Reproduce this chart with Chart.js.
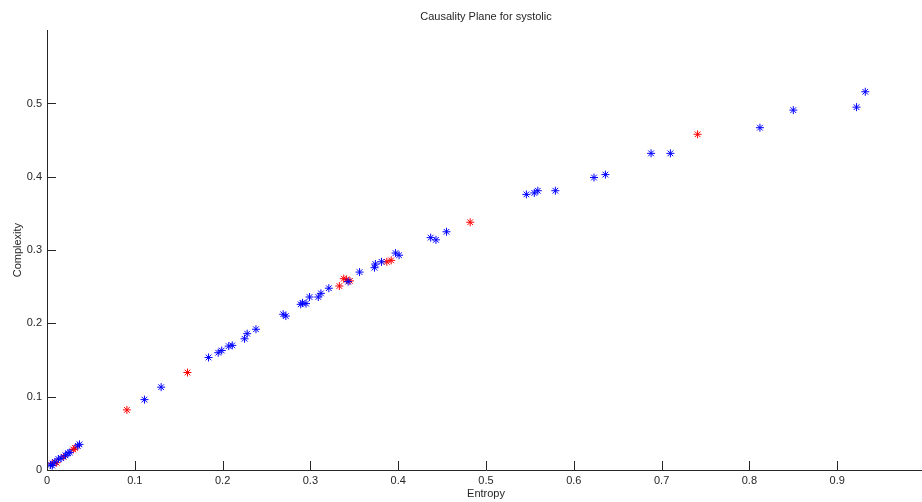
<!DOCTYPE html>
<html>
<head>
<meta charset="utf-8">
<title>Causality Plane for systolic</title>
<script src="https://cdn.jsdelivr.net/npm/chart.js@4/dist/chart.umd.min.js"></script>
<style>
html,body{margin:0;padding:0;background:#fff;overflow:hidden;}
canvas{display:block;}
</style>
</head>
<body>
<canvas id="plano" width="930" height="502"></canvas>
<script>
// blue series
const entropyA = [0.004,0.006,0.009,0.013,0.016,0.021,0.024,0.026,0.035,0.037,
0.111,0.130,0.184,0.195,0.199,0.207,0.211,0.225,0.228,0.238,
0.269,0.272,0.289,0.291,0.295,0.299,0.309,0.312,0.321,0.343,
0.356,0.373,0.374,0.381,0.397,0.401,0.437,0.443,0.455,0.546,
0.555,0.559,0.579,0.623,0.636,0.688,0.710,0.812,0.850,0.922,0.932];
const complexityA = [0.007,0.006,0.011,0.015,0.016,0.020,0.023,0.024,0.033,0.035,
0.096,0.113,0.1535,0.160,0.163,0.169,0.170,0.179,0.186,0.192,
0.2125,0.210,0.226,0.228,0.227,0.236,0.236,0.241,0.248,0.257,
0.270,0.276,0.281,0.284,0.296,0.293,0.317,0.314,0.325,0.376,
0.378,0.381,0.381,0.399,0.403,0.432,0.432,0.467,0.491,0.495,0.516];

// red series
const entropyB = [0.006,0.011,0.019,0.030,0.032,0.091,0.160,0.333,0.338,0.341,0.345,0.387,0.392,0.482,0.741];
const complexityB = [0.009,0.010,0.018,0.028,0.030,0.082,0.133,0.251,0.261,0.260,0.258,0.284,0.286,0.338,0.458];

const xTicks = [0,0.1,0.2,0.3,0.4,0.5,0.6,0.7,0.8,0.9];
const xTickLabels = ['0','0.1','0.2','0.3','0.4','0.5','0.6','0.7','0.8','0.9'];
const yTicks = [0,0.1,0.2,0.3,0.4,0.5];
const yTickLabels = ['0','0.1','0.2','0.3','0.4','0.5'];

function pontos(xs, ys){
  return xs.map((x,i)=>({x:x, y:ys[i]}));
}

const fonte = "Arial, 'Liberation Sans', sans-serif";
const corTexto = "#262626";

// inward tick marks, matlab style
const marcas = {
  id:'marcas',
  afterDraw(chart){
    const c = chart.ctx;
    const xs = chart.scales.x, ys = chart.scales.y;
    const area = chart.chartArea;
    c.save();
    c.strokeStyle = corTexto;
    c.lineWidth = 1;
    c.beginPath();
    xTicks.forEach(v=>{
      const px = Math.round(xs.getPixelForValue(v))+0.5;
      c.moveTo(px, area.bottom);
      c.lineTo(px, area.bottom-9);
    });
    yTicks.forEach(v=>{
      const py = Math.round(ys.getPixelForValue(v))+0.5;
      c.moveTo(area.left, py);
      c.lineTo(area.left+9, py);
    });
    c.stroke();
    c.restore();
  }
};

new Chart(document.getElementById("plano"),{
  type:"scatter",
  data:{
    datasets:[{
      data:pontos(entropyA, complexityA),
      borderColor:"#0000ff",
      backgroundColor:"#0000ff",
      pointStyle:"star",
      pointRadius:4,
      borderWidth:1
    },{
      data:pontos(entropyB, complexityB),
      borderColor:"#ff0000",
      backgroundColor:"#ff0000",
      pointStyle:"star",
      pointRadius:4,
      borderWidth:1
    }]
  },
  options:{
    responsive:false,
    animation:false,
    devicePixelRatio:1,
    layout:{padding:{left:0,right:5,top:0,bottom:0}},
    plugins:{
      legend:{display:false},
      tooltip:{enabled:false},
      title:{
        display:true,
        text:"Causality Plane for systolic",
        color:corTexto,
        fullSize:false,
        font:{family:fonte,size:11,weight:"normal"},
        padding:{top:10,bottom:7}
      }
    },
    scales:{
      x:{
        type:"linear",
        min:0,
        max:1,
        afterBuildTicks(s){ s.ticks = xTicks.map(v=>({value:v})); },
        afterFit(s){ s.height = 32; },
        grid:{display:true,drawOnChartArea:false,drawTicks:false},
        border:{color:corTexto,width:1},
        ticks:{
          padding:4,
          color:corTexto,
          font:{family:fonte,size:11},
          maxRotation:0,
          autoSkip:false,
          callback:(v,i)=>xTickLabels[i]
        },
        title:{
          display:true,
          text:"Entropy",
          color:corTexto,
          font:{family:fonte,size:11},
          padding:{top:0,bottom:1}
        }
      },
      y:{
        type:"linear",
        min:0,
        max:0.6,
        afterBuildTicks(s){ s.ticks = yTicks.map(v=>({value:v})); },
        afterFit(s){ s.width = 47; },
        grid:{display:true,drawOnChartArea:false,drawTicks:false},
        border:{color:corTexto,width:1},
        ticks:{
          padding:5,
          color:corTexto,
          font:{family:fonte,size:11},
          autoSkip:false,
          callback:(v,i)=>yTickLabels[i]
        },
        title:{
          display:true,
          text:"Complexity",
          color:corTexto,
          font:{family:fonte,size:11},
          padding:{top:11,bottom:0}
        }
      }
    }
  },
  plugins:[marcas]
});
</script>
</body>
</html>
